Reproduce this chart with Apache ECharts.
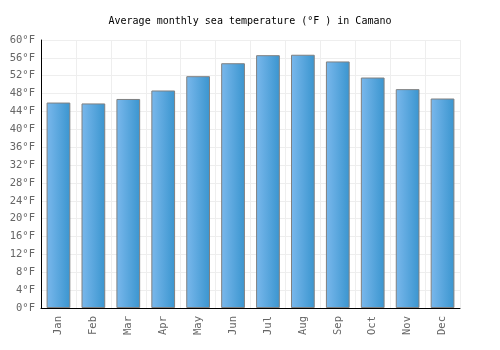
<!DOCTYPE html>
<html><head><meta charset="utf-8">
<script src="https://cdn.jsdelivr.net/npm/echarts@6/dist/echarts.min.js"></script>
<style>html,body{margin:0;padding:0;background:#fff}#c{width:500px;height:350px}</style>
</head><body><div id="c"></div>
<script>
const categories = ['Jan','Feb','Mar','Apr','May','Jun','Jul','Aug','Sep','Oct','Nov','Dec'];
const temps = [46.0, 45.8, 46.8, 48.7, 51.9, 54.8, 56.6, 56.7, 55.2, 51.6, 49.0, 46.9];
const titleText = 'Average monthly sea temperature (°F ) in Camano';
const font = 'DejaVu Sans Mono';
const chart = echarts.init(document.getElementById('c'));
chart.setOption({
  animation: false,
  title: { text: titleText, left: 'center', top: 11, textStyle: { fontFamily: font, fontSize: 10, fontWeight: 'normal', color: '#000' } },
  grid: { left: 41, right: 40, top: 40, bottom: 42 },
  xAxis: {
    type: 'category', data: categories,
    axisLine: { lineStyle: { color: '#000', width: 1 } },
    axisTick: { show: false },
    splitLine: { show: true, lineStyle: { color: '#eeeeee' } },
    axisLabel: { rotate: 90, fontFamily: font, fontSize: 10.5, color: '#666', margin: 8 }
  },
  yAxis: {
    type: 'value', min: 0, max: 60, interval: 4,
    axisLine: { show: true, lineStyle: { color: '#000', width: 1 } },
    axisTick: { show: false },
    splitLine: { lineStyle: { color: '#eeeeee' } },
    axisLabel: { formatter: '{value}°F', fontFamily: font, fontSize: 10.5, color: '#666', margin: 6 }
  },
  series: [{
    type: 'bar', data: temps, barWidth: '68%',
    itemStyle: {
      color: new echarts.graphic.LinearGradient(0, 0, 1, 0, [
        { offset: 0, color: '#7ab8ec' }, { offset: 1, color: '#3a95cf' }
      ]),
      borderColor: '#808080', borderWidth: 1
    }
  }]
});
</script></body></html>
